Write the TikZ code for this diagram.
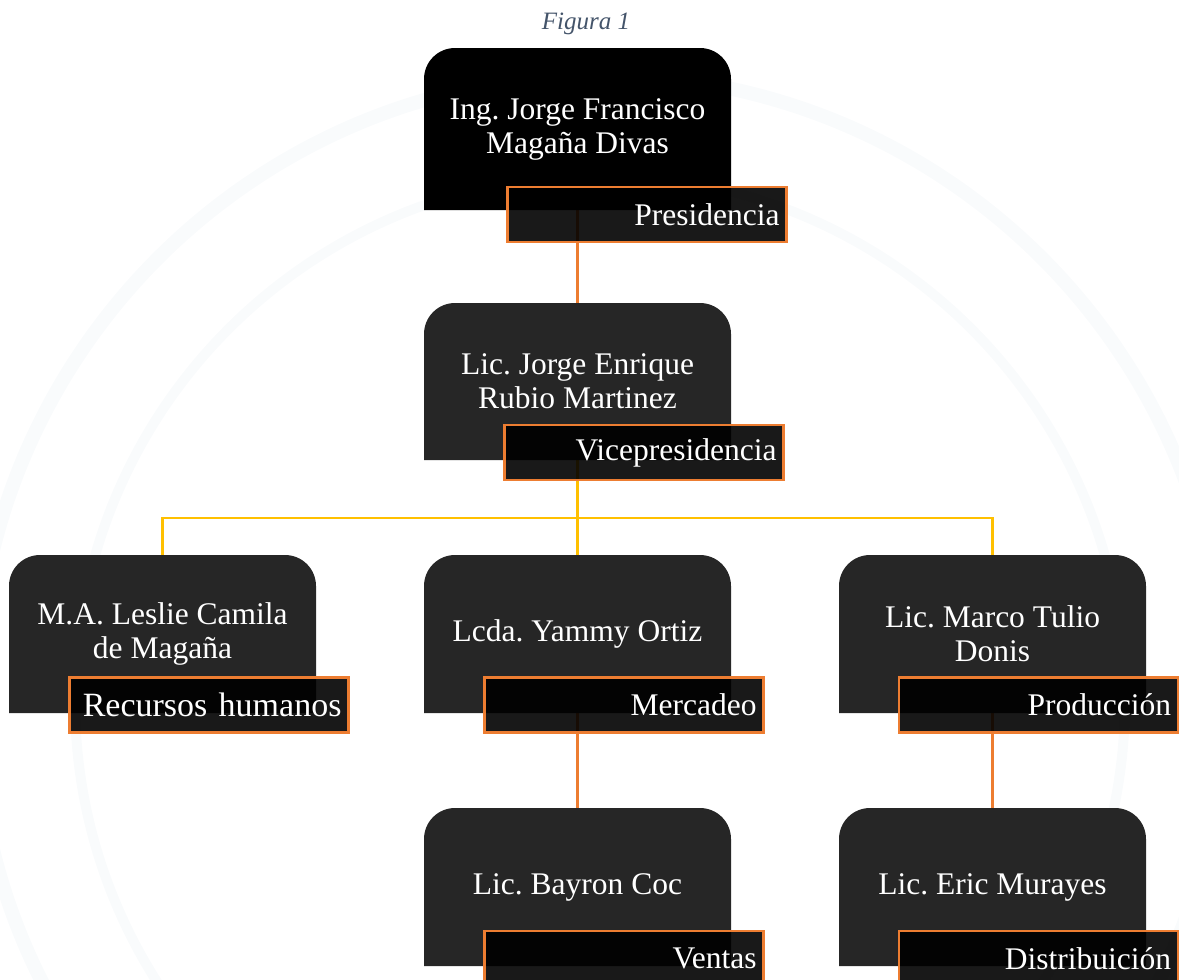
\documentclass[tikz,border=0pt]{standalone}
\usepackage{fontspec}
\setmainfont{Liberation Serif}
\frenchspacing
\usetikzlibrary{backgrounds}
\definecolor{orgline}{HTML}{ED7D31}
\definecolor{yelline}{HTML}{FFC000}
\definecolor{boxgray}{HTML}{262626}
\definecolor{figcol}{HTML}{44546A}
\definecolor{wmark}{HTML}{F9FBFC}
\tikzset{
  mainbox/.style={minimum width=307pt, minimum height=#1, inner sep=0pt, align=center,
    text=white, font=\fontsize{31.5}{34}\selectfont},
  topfill/.style={path picture={\fill[#1] (path picture bounding box.south west)
      [rounded corners=31pt] -- (path picture bounding box.north west)
      -- (path picture bounding box.north east) [sharp corners]
      -- (path picture bounding box.south east) -- cycle;}},
  rolebox/.style={draw=orgline, line width=2.5pt, fill=black, fill opacity=0.9, text opacity=1,
    text=white, minimum width=279pt, minimum height=55pt, inner xsep=0pt, inner ysep=0pt,
    text width=265pt, align=right, font=\fontsize{31.5}{34}\selectfont},
  orgconn/.style={draw=orgline, line width=2.2pt},
  yelconn/.style={draw=yelline, line width=2.2pt},
}
\begin{document}
\begin{tikzpicture}[x=1pt,y=-1pt]
\useasboundingbox (0,0) rectangle (1179,980);
\node[font=\itshape\fontsize{25}{28}\selectfont, text=figcol] (fig) at (586,24) {Figura 1};
% main boxes
\node[mainbox=162pt, topfill=black] (b1) at (577.5,129) {Ing. Jorge Francisco\\Magaña Divas};
\node[mainbox=157pt, topfill=boxgray] (b2) at (577.5,381.5) {Lic. Jorge Enrique\\Rubio Martinez};
\node[mainbox=158pt, topfill=boxgray] (b3) at (162.5,634) {M.A. Leslie Camila\\de Magaña};
\node[mainbox=158pt, topfill=boxgray] (b4) at (577.5,634) {Lcda. Yammy Ortiz};
\node[mainbox=158pt, topfill=boxgray] (b5) at (992.5,634) {Lic. Marco Tulio\\Donis};
\node[mainbox=158pt, topfill=boxgray] (b6) at (577.5,887) {Lic. Bayron Coc};
\node[mainbox=158pt, topfill=boxgray] (b7) at (992.5,887) {Lic. Eric Murayes};
% role labels
\node[rolebox] (r1) at (647,214.5) {Presidencia};
\node[rolebox] (r2) at (644,452.5) {Vicepresidencia};
\node[rolebox, font=\fontsize{34}{36}\selectfont] (r3) at (209,705) {Recursos humanos};
\node[rolebox] (r4) at (624,705) {Mercadeo};
\node[rolebox] (r5) at (1038.5,705) {Producción};
\node[rolebox] (r6) at (624,958.5) {Ventas};
\node[rolebox] (r7) at (1038.5,958.5) {Distribuición};
\coordinate (j) at (577.5,518);
\begin{scope}[on background layer]
  \draw[wmark, line width=14pt] (600,700) circle (625);
  \draw[wmark, line width=10pt] (600,700) circle (525);
  \draw[orgconn] (b1.south) -- (b2.north);
  \draw[yelconn] (b2.south) -- (j);
  \draw[yelconn] (j) -| (b3.north);
  \draw[yelconn] (j) -- (b4.north);
  \draw[yelconn] (j) -| (b5.north);
  \draw[orgconn] (b4.south) -- (b6.north);
  \draw[orgconn] (b5.south) -- (b7.north);
\end{scope}
\end{tikzpicture}
\end{document}
